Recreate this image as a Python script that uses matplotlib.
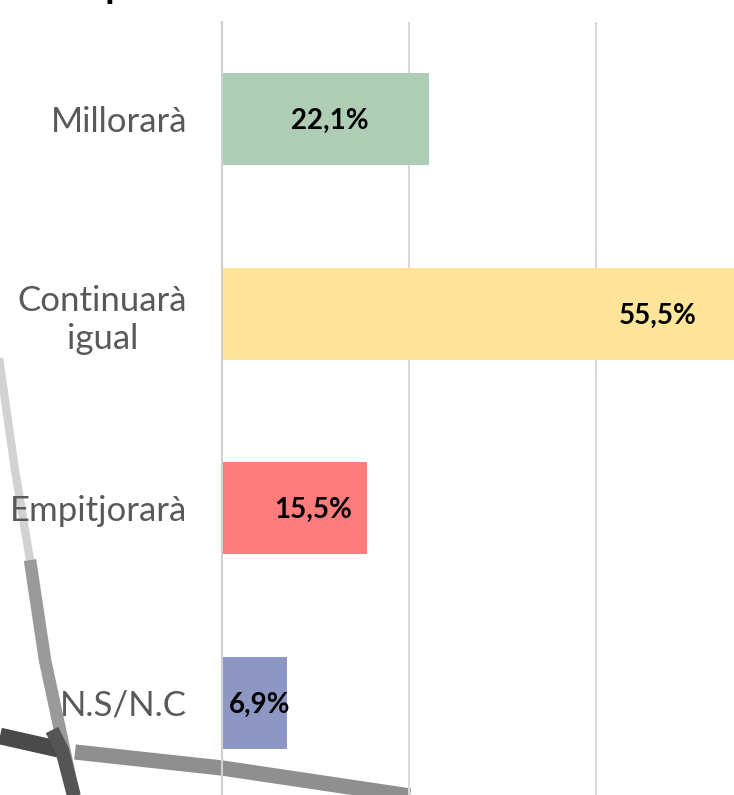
import matplotlib.pyplot as plt

categories = ["Millorarà", "Continuarà\nigual", "Empitjorarà", "N.S/N.C"]
values = [22.1, 55.5, 15.5, 6.9]
labels = ["22,1%", "55,5%", "15,5%", "6,9%"]
label_x = [11.5, 46.5, 9.7, 4.0]  # where the value labels sit (data units)
colors = ["#AFCCB5", "#FFE599", "#FF7C7C", "#8E97C4"]
grid_ticks = [0, 20, 40, 60]

plt.rcParams["font.family"] = ["Lato", "DejaVu Sans"]

fig = plt.figure(figsize=(7.34, 7.95), dpi=100)

# background sketch strokes (the photo behind the chart), pixel coords
bg = fig.add_axes([0, 0, 1, 1], zorder=0)
bg.set_xlim(0, 734)
bg.set_ylim(795, 0)
bg.axis("off")
bg.plot([-5, 15, 30], [330, 470, 560], color="#D2D2D2", lw=6, solid_capstyle="butt")
bg.plot([30, 45, 60, 75], [560, 660, 730, 800], color="#9A9A9A", lw=9,
        solid_capstyle="butt")
bg.plot([75, 222, 410], [752, 768, 796], color="#8F8F8F", lw=11, solid_capstyle="butt")
bg.plot([0, 62], [736, 750], color="#4A4A4A", lw=12, solid_capstyle="butt")
bg.plot([52, 62, 75], [730, 750, 800], color="#555555", lw=10, solid_capstyle="butt")

# clipped title, only its descenders show at the top
fig.text(0.045, 1 + 2 / 795, "Ocupació", fontsize=28, fontweight="bold",
         color="black", va="baseline", ha="left")

ax = fig.add_axes([222 / 734, 1 - 800 / 795, 561.6 / 734, 778 / 795], zorder=1)
ax.patch.set_alpha(0)

y = range(len(categories))
ax.barh(y, values, height=0.473, color=colors, zorder=2)
for i, (lx, txt) in enumerate(zip(label_x, labels)):
    ax.text(lx, i + 0.01, txt, ha="center", va="center", fontsize=20,
            fontweight="bold", color="black", zorder=3)

ax.set_xlim(0, 60)
ax.set_ylim(3.5, -0.5)
ax.set_xticks(grid_ticks)
ax.set_xticklabels([])
ax.tick_params(axis="x", length=0)
ax.grid(axis="x", color="#D9D9D9", lw=1.5, zorder=1)
ax.set_yticks(list(y))
ax.set_yticklabels(categories, fontsize=25, color="#595959",
                   multialignment="center", linespacing=1.25)
ax.tick_params(axis="y", length=0, pad=25)
for s in ["top", "right", "bottom"]:
    ax.spines[s].set_visible(False)
ax.spines["left"].set_color("#D0D0D0")
ax.spines["left"].set_linewidth(1.5)

fig.savefig("out.png", dpi=100)
